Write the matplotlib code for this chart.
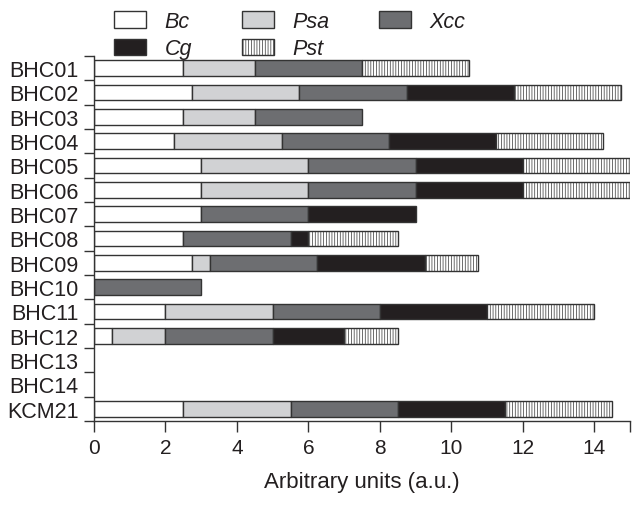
import numpy as np
import matplotlib.pyplot as plt

plt.rcParams['font.family'] = ['Liberation Sans', 'DejaVu Sans']
plt.rcParams['hatch.linewidth'] = 0.5

strains = ['BHC01', 'BHC02', 'BHC03', 'BHC04', 'BHC05', 'BHC06', 'BHC07',
           'BHC08', 'BHC09', 'BHC10', 'BHC11', 'BHC12', 'BHC13', 'BHC14', 'KCM21']
Bc = [2.5, 2.75, 2.5, 2.25, 3, 3, 3, 2.5, 2.75, 0, 2, 0.5, 0, 0, 2.5]
Psa = [2, 3, 2, 3, 3, 3, 0, 0, 0.5, 0, 3, 1.5, 0, 0, 3]
Xcc = [3, 3, 3, 3, 3, 3, 3, 3, 3, 3, 3, 3, 0, 0, 3]
Cg = [0, 3, 0, 3, 3, 3, 3, 0.5, 3, 0, 3, 2, 0, 0, 3]
Pst = [3, 3, 0, 3, 3, 3, 0, 2.5, 1.5, 0, 3, 1.5, 0, 0, 3]

ink = '#231f20'
fig = plt.figure(figsize=(6.44, 5.06), dpi=100)
ax = fig.add_axes([94/644, 1 - 422/506, 536/644, 365/506])

y = np.arange(len(strains))
left = np.zeros(len(strains))
series = [('Bc', Bc, 'white', None),
          ('Psa', Psa, '#d1d2d4', None),
          ('Xcc', Xcc, '#6d6e71', None),
          ('Cg', Cg, ink, None),
          ('Pst', Pst, 'white', '||||||')]
handles = {}
for name, vals, col, hatch in series:
    vals = np.array(vals, dtype=float)
    m = vals > 0
    b = ax.barh(y[m], vals[m], left=left[m], height=0.64, color=col, edgecolor='#333333',
                linewidth=1.0, hatch=hatch, label=name)
    handles[name] = b
    left += vals

ax.set_xlim(0, 15)
ax.set_ylim(len(strains) - 0.5, -0.5)
ax.set_yticks(np.arange(len(strains) + 1) - 0.5)
ax.set_yticklabels([])
ax.set_yticks(y, minor=True)
ax.set_yticklabels(strains, minor=True, fontsize=15.5, color=ink)
ax.tick_params(axis='y', which='minor', length=0, pad=11)
ax.tick_params(axis='y', which='major', length=7, width=1.0, color='#333333')
ax.set_xticks([0, 2, 4, 6, 8, 10, 12, 14, 15])
ax.set_xticklabels(['0', '2', '4', '6', '8', '10', '12', '14', ''], fontsize=15, color=ink)
ax.tick_params(axis='x', length=8, width=1.0, color='#333333', pad=4)
ax.spines['top'].set_visible(False)
ax.spines['right'].set_visible(False)
for s in ['left', 'bottom']:
    ax.spines[s].set_linewidth(1.0)
    ax.spines[s].set_color('#333333')
ax.set_xlabel('Arbitrary units (a.u.)', fontsize=16, color=ink, labelpad=10)

order = ['Bc', 'Cg', 'Psa', 'Pst', 'Xcc']
leg = fig.legend([handles[n] for n in order], order, loc='upper left',
                 bbox_to_anchor=(114/644, 1 - 12/506), ncol=3, frameon=False,
                 borderpad=0, borderaxespad=0, handlelength=1.5, handleheight=0.78,
                 handletextpad=0.85, columnspacing=2.3, labelspacing=0.3,
                 prop={'style': 'italic', 'size': 15.5})
for t in leg.get_texts():
    t.set_color(ink)

fig.savefig('out.png', dpi=100)
